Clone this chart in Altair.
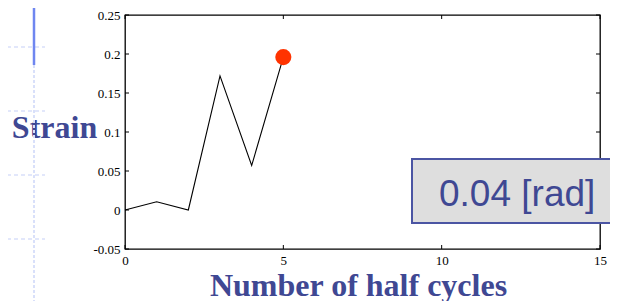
import altair as alt
import pandas as pd

# Data
half_cycles = [0, 1, 2, 3, 4, 5]
strain = [0.0, 0.0105, 0.0, 0.172, 0.057, 0.196]
x_ticks = [0, 5, 10, 15]
y_ticks = [-0.05, 0, 0.05, 0.1, 0.15, 0.2, 0.25]
label_text = "0.04 [rad]"

W, H = 475, 234
TITLE_COLOR = "#3f4893"
BOX_STROKE = "#4b55a3"

df = pd.DataFrame({"n": half_cycles, "s": strain})
last = df.tail(1)
xt = pd.DataFrame({"t": x_ticks})
yt = pd.DataFrame({"t": y_ticks})
one = pd.DataFrame({"k": [0]})

xscale = alt.Scale(domain=[0, 15], nice=False, zero=False)
yscale = alt.Scale(domain=[-0.05, 0.25], nice=False, zero=False)

x_axis = alt.Axis(
    values=x_ticks, ticks=False, tickSize=0, domain=False, grid=False,
    labelFont="Liberation Serif", labelFontSize=13, labelColor="black",
    labelPadding=5, labelFlush=False, labelOverlap=False,
    title="Number of half cycles", titleFont="Liberation Serif", titleFontSize=32,
    titleFontWeight="bold", titleColor=TITLE_COLOR, titleX=233, titleY=46,
    titleAlign="center", titleBaseline="alphabetic",
)
y_axis = alt.Axis(
    values=y_ticks, ticks=False, tickSize=0, domain=False, grid=False,
    labelFont="Liberation Serif", labelFontSize=13, labelColor="black",
    labelPadding=5, labelFlush=False, labelOverlap=False,
    labelExpr="replace(format(datum.value, ''), '\u2212', '-')",
    title="Strain", titleFont="Liberation Serif", titleFontSize=32,
    titleFontWeight="bold", titleColor=TITLE_COLOR, titleAngle=0,
    titleX=-71, titleY=122, titleAlign="center", titleBaseline="alphabetic",
)


def X(field):
    return alt.X(field, scale=xscale, axis=x_axis, title="Number of half cycles")


def Y(field):
    return alt.Y(field, scale=yscale, axis=y_axis, title="Strain")


line = alt.Chart(df).mark_line(color="black", strokeWidth=1.1).encode(
    x=X("n:Q"), y=Y("s:Q"))
dot = alt.Chart(last).mark_circle(color="#ff3300", opacity=1, size=260).encode(
    x=X("n:Q"), y=Y("s:Q"))

# inward ticks (MATLAB style)
xt_bottom = alt.Chart(xt).mark_rule(color="black", strokeWidth=1).encode(
    x=X("t:Q"), y=alt.value(H), y2=alt.value(H - 4))
xt_top = alt.Chart(xt).mark_rule(color="black", strokeWidth=1).encode(
    x=X("t:Q"), y=alt.value(0), y2=alt.value(4))
yt_left = alt.Chart(yt).mark_rule(color="black", strokeWidth=1).encode(
    y=Y("t:Q"), x=alt.value(0), x2=alt.value(4))
yt_right = alt.Chart(yt).mark_rule(color="black", strokeWidth=1).encode(
    y=Y("t:Q"), x=alt.value(W - 4), x2=alt.value(W))

# annotation box (open on the right: it runs off the page)
BX0, BX1, BY0, BY1 = 287, W + 20, 144, 208
box = alt.Chart(one).mark_rect(fill="#dedede", clip=False).encode(
    x=alt.value(BX0), x2=alt.value(BX1), y=alt.value(BY0), y2=alt.value(BY1))
box_top = alt.Chart(one).mark_rule(color=BOX_STROKE, strokeWidth=2).encode(
    x=alt.value(BX0), x2=alt.value(BX1), y=alt.value(BY0))
box_bot = alt.Chart(one).mark_rule(color=BOX_STROKE, strokeWidth=2).encode(
    x=alt.value(BX0), x2=alt.value(BX1), y=alt.value(BY1))
box_left = alt.Chart(one).mark_rule(color=BOX_STROKE, strokeWidth=2).encode(
    x=alt.value(BX0), y=alt.value(BY0 - 1), y2=alt.value(BY1 + 1))
box_text = alt.Chart(one).mark_text(
    text=label_text, font="Liberation Sans", fontSize=37, color=TITLE_COLOR,
    align="left", baseline="alphabetic", clip=False,
).encode(x=alt.value(314), y=alt.value(191))

# slide decorations on the left
deco_bar = alt.Chart(one).mark_rule(color="#6f86f0", strokeWidth=2.5).encode(
    x=alt.value(-91), y=alt.value(-15), y2=alt.value(50))
deco_vert = alt.Chart(one).mark_rule(color="#d9e0fa", strokeWidth=2, strokeDash=[3, 2]).encode(
    x=alt.value(-91), y=alt.value(50), y2=alt.value(290))
deco_h = [
    alt.Chart(one).mark_rule(color="#d9e0fa", strokeWidth=1.5, strokeDash=[4, 3]).encode(
        x=alt.value(-125), x2=alt.value(-80), y=alt.value(yy))
    for yy in [32, 96, 160, 224]
]

chart = alt.layer(
    *deco_h, deco_vert, deco_bar,
    line, xt_bottom, xt_top, yt_left, yt_right, dot,
    box, box_top, box_bot, box_left, box_text,
).properties(
    width=W, height=H,
    autosize=alt.AutoSizeParams(type="none"),
    padding={"left": 117, "top": 7, "right": 10, "bottom": 52},
    background="white",
).configure_view(stroke="black", strokeWidth=1.3)

chart.save("out.html", embed_options={"renderer": "svg", "actions": False})
